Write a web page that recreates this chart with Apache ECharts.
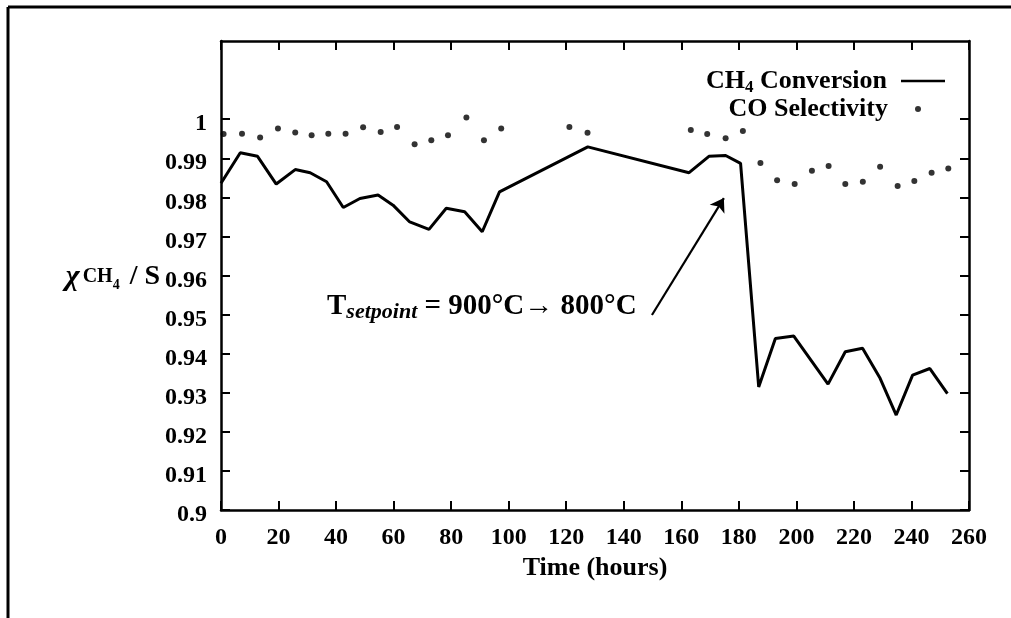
<!DOCTYPE html>
<html>
<head>
<meta charset="utf-8">
<script src="https://cdn.jsdelivr.net/npm/echarts@6/dist/echarts.min.js"></script>
<style>html,body{margin:0;padding:0;background:#fff}#c{width:1011px;height:618px}</style>
</head>
<body>
<div id="c"></div>
<script>
// ---- data ----
const conversionTime = [0, 6.7, 12.7, 19.2, 25.8, 31, 36.7, 42.5, 48.3, 54.6, 59.8, 65.6, 72.3, 78.3, 84.7, 90.8, 96.8, 127.5, 162.7, 169.6, 175.4, 180.6, 186.9, 192.7, 199.1, 211, 217, 223, 229.1, 234.7, 240.4, 246.4, 252.5];
const conversion = [0.9836, 0.9914, 0.9905, 0.9834, 0.9871, 0.9863, 0.9840, 0.9774, 0.9797, 0.9806, 0.9780, 0.9737, 0.9718, 0.9772, 0.9763, 0.9712, 0.9814, 0.9929, 0.9863, 0.9905, 0.9907, 0.9887, 0.9315, 0.9439, 0.9445, 0.9322, 0.9405, 0.9414, 0.9337, 0.9243, 0.9345, 0.9362, 0.9298];
const selectivityTime = [0.9, 7.3, 13.6, 19.8, 25.8, 31.5, 37.3, 43.3, 49.4, 55.5, 61.2, 67.3, 73.1, 78.9, 85.3, 91.4, 97.4, 121.1, 127.4, 163.3, 169, 175.4, 181.4, 187.5, 193.3, 199.4, 205.4, 211.2, 217, 223.1, 229.1, 235.2, 241, 247, 252.8];
const selectivity = [0.9962, 0.9963, 0.9953, 0.9976, 0.9966, 0.9959, 0.9963, 0.9963, 0.9979, 0.9967, 0.9980, 0.9936, 0.9946, 0.9959, 1.0004, 0.9946, 0.9976, 0.9980, 0.9965, 0.9972, 0.9962, 0.9951, 0.9970, 0.9888, 0.9844, 0.9834, 0.9868, 0.9880, 0.9834, 0.9840, 0.9878, 0.9829, 0.9842, 0.9863, 0.9874];
const yTicks = [0.9, 0.91, 0.92, 0.93, 0.94, 0.95, 0.96, 0.97, 0.98, 0.99, 1.0];
const xTicks = [0, 20, 40, 60, 80, 100, 120, 140, 160, 180, 200, 220, 240, 260];
const seriesNames = ['CH4 Conversion', 'CO Selectivity'];
const arrowFrom = [149.8, 0.9499];
const arrowTo = [174.8, 0.9798];

// ---- chart ----
const FONT = 'Liberation Serif';
const chart = echarts.init(document.getElementById('c'), null, {renderer: 'canvas'});
const pair = (xs, ys) => xs.map((x, i) => [x, ys[i]]);
const axisCommon = {
  axisLine: {show: true, onZero: false, lineStyle: {color: '#000', width: 2.5}},
  axisTick: {show: true, inside: true, length: 9, lineStyle: {color: '#000', width: 2}},
  splitLine: {show: false}
};
const legendRich = {
  a: {fontFamily: FONT, fontWeight: 'bold', fontSize: 26, color: '#000', lineHeight: 30},
  s: {fontFamily: FONT, fontWeight: 'bold', fontSize: 17, color: '#000', lineHeight: 15, verticalAlign: 'bottom'}
};
chart.setOption({
  animation: false,
  backgroundColor: '#fff',
  grid: {left: 221, right: 42, top: 41, bottom: 108},
  xAxis: [
    Object.assign({}, axisCommon, {
      type: 'value', min: 0, max: 260, interval: 20, position: 'bottom',
      name: 'Time (hours)', nameLocation: 'middle', nameGap: 41,
      nameTextStyle: {fontFamily: FONT, fontWeight: 'bold', fontSize: 26, color: '#000'},
      axisLabel: {customValues: xTicks, margin: 16, fontFamily: FONT, fontWeight: 'bold', fontSize: 24, color: '#000'},
      axisTick: Object.assign({}, axisCommon.axisTick, {customValues: xTicks})
    }),
    Object.assign({}, axisCommon, {
      type: 'value', min: 0, max: 260, interval: 20, position: 'top',
      axisLabel: {show: false},
      axisTick: Object.assign({}, axisCommon.axisTick, {customValues: xTicks})
    })
  ],
  yAxis: [
    Object.assign({}, axisCommon, {
      type: 'value', min: 0.9, max: 1.02, interval: 0.01, position: 'left',
      axisLabel: {customValues: yTicks, margin: 14, fontFamily: FONT, fontWeight: 'bold', fontSize: 24, color: '#000',
        verticalAlign: 'top', lineHeight: 10, formatter: v => String(+v.toFixed(2))},
      axisTick: Object.assign({}, axisCommon.axisTick, {customValues: yTicks})
    }),
    Object.assign({}, axisCommon, {
      type: 'value', min: 0.9, max: 1.02, interval: 0.01, position: 'right',
      axisLabel: {show: false},
      axisTick: Object.assign({}, axisCommon.axisTick, {customValues: yTicks})
    })
  ],
  legend: [
    {
      data: [{name: seriesNames[0], icon: 'rect'}], right: 66, top: 68, padding: 0, itemWidth: 44, itemHeight: 2.5,
      align: 'right', selectedMode: false,
      formatter: () => '{a|CH}{s|4}{a| Conversion}',
      textStyle: {rich: legendRich, padding: [0, 9, 0, 0]}
    },
    {
      data: [{name: seriesNames[1], icon: 'circle'}], right: 90, top: 96, padding: 0, itemWidth: 6, itemHeight: 6,
      align: 'right', selectedMode: false,
      formatter: () => '{a|CO Selectivity}',
      textStyle: {rich: legendRich, padding: [0, 22, 0, 0]}
    }
  ],
  series: [
    {
      name: seriesNames[0], type: 'line', xAxisIndex: 0, yAxisIndex: 0,
      data: pair(conversionTime, conversion), showSymbol: false, symbol: 'none',
      lineStyle: {color: '#000', width: 3}, itemStyle: {color: '#000'},
      markLine: {
        silent: true, symbol: ['none', 'arrow'], symbolSize: 13, label: {show: false},
        lineStyle: {color: '#000', width: 2.2, type: 'solid'},
        data: [[{coord: arrowFrom}, {coord: arrowTo}]]
      }
    },
    {
      name: seriesNames[1], type: 'scatter', xAxisIndex: 0, yAxisIndex: 0,
      data: pair(selectivityTime, selectivity), symbol: 'circle', symbolSize: 6,
      itemStyle: {color: '#000'}
    }
  ],
  graphic: [
    {type: 'line', shape: {x1: 8, y1: 7, x2: 1011, y2: 7}, style: {stroke: '#000', lineWidth: 3}},
    {type: 'line', shape: {x1: 8, y1: 7, x2: 8, y2: 618}, style: {stroke: '#000', lineWidth: 3}},
    {
      type: 'text', x: 160, y: 277, z: -1,
      style: {
        text: '{g|χ}{c|CH}{s|4}{n|/ S}',
        align: 'right', verticalAlign: 'middle',
        rich: {
          g: {fontFamily: FONT, fontWeight: 'bold', fontSize: 30, fill: '#000', lineHeight: 30, fontStyle: 'italic'},
          c: {fontFamily: FONT, fontWeight: 'bold', fontSize: 20, fill: '#000', lineHeight: 30, padding: [0, 0, 0, 3]},
          s: {fontFamily: FONT, fontWeight: 'bold', fontSize: 14, fill: '#000', lineHeight: 12, verticalAlign: 'bottom'},
          n: {fontFamily: FONT, fontWeight: 'bold', fontSize: 28, fill: '#000', lineHeight: 30, padding: [0, 0, 0, 10]}
        }
      }
    },
    {
      type: 'text', x: 327, y: 307,
      style: {
        text: '{t|T}{i|setpoint}{t| = 900°C}{t|→ 800°C}',
        verticalAlign: 'middle',
        rich: {
          t: {fontFamily: FONT, fontWeight: 'bold', fontSize: 29, fill: '#000', lineHeight: 32},
          i: {fontFamily: FONT, fontWeight: 'bold', fontStyle: 'italic', fontSize: 22, fill: '#000', lineHeight: 22, verticalAlign: 'bottom'}
        }
      }
    }
  ]
});
</script>
</body>
</html>
